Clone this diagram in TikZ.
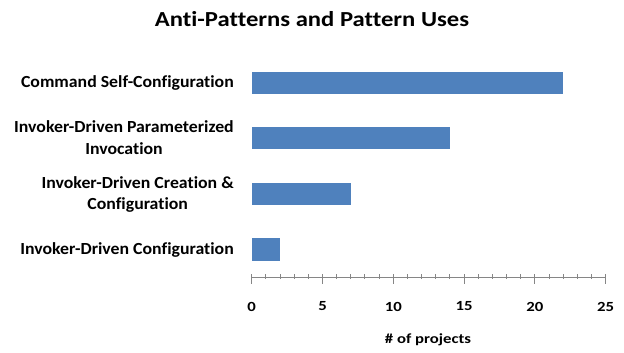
\documentclass[tikz,border=0pt]{standalone}
\usepackage{fontspec}
\setmainfont{Carlito}[Ligatures=NoCommon]
\newfontfamily\titlefont[FakeStretch=1.15,Ligatures=NoCommon]{Carlito}
\newfontfamily\labelfont[FakeStretch=1.05,Ligatures=NoCommon]{Carlito}
\newfontfamily\axisfont[FakeStretch=1.2,Ligatures=NoCommon]{Carlito}
\definecolor{barblue}{HTML}{4F81BD}
\definecolor{axisgray}{HTML}{868686}
\begin{document}
\begin{tikzpicture}[x=1bp,y=-1bp,
  bar/.style={fill=barblue,draw=none},
  catlabel/.style={anchor=east,align=center,font=\labelfont\bfseries\fontsize{17}{21.5}\selectfont,inner sep=0pt},
  ticklabel/.style={font=\axisfont\bfseries\fontsize{14}{16}\selectfont,inner sep=0pt},
  axisline/.style={draw=axisgray,line width=1bp}]
\useasboundingbox (0,0) rectangle (624,352);
% title
\node[font=\titlefont\bfseries\fontsize{21.5}{24}\selectfont,inner sep=0pt] (title) at (312,19) {Anti-Patterns and Pattern Uses};
% scale: 14.16 units per project, origin at x=251.7
\def\xo{251.7}
\def\sc{14.16}
% bars
\fill[bar] (\xo,71.7) rectangle ({\xo+22*\sc},94.3);
\fill[bar] (\xo,127) rectangle ({\xo+14*\sc},149.3);
\fill[bar] (\xo,182.5) rectangle ({\xo+7*\sc},205);
\fill[bar] (\xo,238) rectangle ({\xo+2*\sc},260.7);
% category labels
\node[catlabel] (l1) at (234,83) {Command Self-Configuration};
\node[catlabel] (l2) at (234,137.5) {Invoker-Driven Parameterized\\Invocation};
\node[catlabel] (l3) at (234,194.5) {Invoker-Driven Creation \&\\Configuration};
\node[catlabel] (l4) at (234,250) {Invoker-Driven Configuration};
% horizontal axis
\draw[axisline] (\xo,277) -- ({\xo+25*\sc},277);
\foreach \i in {0,...,25}{
  \draw[axisline] ({\xo+\i*\sc},274.3) -- ({\xo+\i*\sc},278.7);
}
\foreach \i in {0,5,...,25}{
  \draw[axisline] ({\xo+\i*\sc},274) -- ({\xo+\i*\sc},284);
  \node[ticklabel] (t\i) at ({\xo+\i*\sc},306.5) {\i};
}
\node[font=\axisfont\bfseries\fontsize{14}{16}\selectfont,inner sep=0pt] (xlabel) at (428,340) {\# of projects};
\end{tikzpicture}
\end{document}
